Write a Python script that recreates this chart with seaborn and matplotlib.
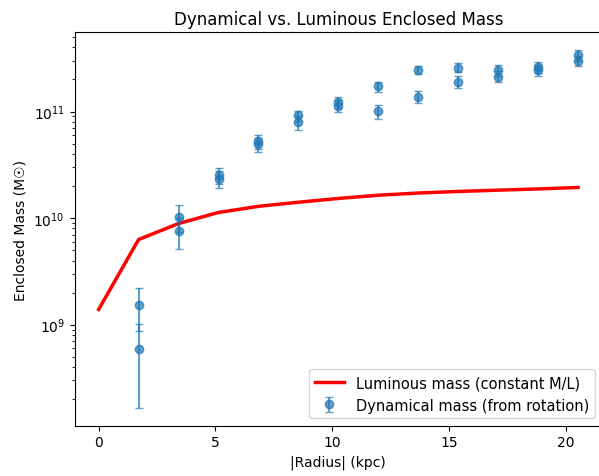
import numpy as np
import pandas as pd
import matplotlib
matplotlib.use("Agg")
import matplotlib.pyplot as plt
import seaborn as sns

# Luminous mass curve (constant M/L)
lum_radius = [0.0, 1.71, 3.42, 5.13, 6.84, 8.55, 10.26, 11.97, 13.68, 15.39, 17.10, 18.81, 20.52]
lum_mass = [1.39e9, 6.3e9, 8.9e9, 1.13e10, 1.29e10, 1.41e10, 1.53e10, 1.64e10,
            1.72e10, 1.78e10, 1.83e10, 1.88e10, 1.94e10]

# Dynamical mass points (two sides of the galaxy)
dyn_radius = [1.71, 1.71, 3.42, 3.42, 5.13, 5.13, 6.84, 6.84, 8.55, 8.55,
              10.26, 10.26, 11.97, 11.97, 13.68, 13.68, 15.39, 15.39,
              17.10, 17.10, 18.81, 18.81, 20.52, 20.52]
dyn_mass = [1.54e9, 5.96e8, 1.03e10, 7.52e9, 2.52e10, 2.35e10, 5.25e10, 4.95e10,
            9.2e10, 7.9e10, 1.23e11, 1.13e11, 1.72e11, 1.01e11, 2.46e11, 1.38e11,
            2.59e11, 1.9e11, 2.46e11, 2.13e11, 2.6e11, 2.45e11, 3.38e11, 2.99e11]
dyn_err = [6.6e8, 4.3e8, 2.9e9, 2.4e9, 4.5e9, 4.2e9, 8.0e9, 7.5e9,
           1.0e10, 1.2e10, 1.4e10, 1.4e10, 1.8e10, 1.5e10, 2.0e10, 1.7e10,
           2.4e10, 2.4e10, 3.0e10, 2.5e10, 3.0e10, 3.0e10, 3.8e10, 3.2e10]

lum_df = pd.DataFrame({"radius": lum_radius, "mass": lum_mass})

fig, ax = plt.subplots(figsize=(5.99, 4.77), dpi=100)
fig.subplots_adjust(left=0.1247, right=1.005, top=0.930, bottom=0.1055)

sns.lineplot(data=lum_df, x="radius", y="mass", color="red", linewidth=2.5,
             label="Luminous mass (constant M/L)", ax=ax)
ax.errorbar(dyn_radius, dyn_mass, yerr=dyn_err, fmt="o", alpha=0.7, capsize=3,
            color="tab:blue", label="Dynamical mass (from rotation)")

ax.set_yscale("log")
ax.set_xlabel("|Radius| (kpc)")
ax.set_ylabel("Enclosed Mass (M\u2609)")
ax.set_title("Dynamical vs. Luminous Enclosed Mass")
ax.legend(loc="lower right", fontsize=10.5)

fig.savefig("out.png", dpi=100)
